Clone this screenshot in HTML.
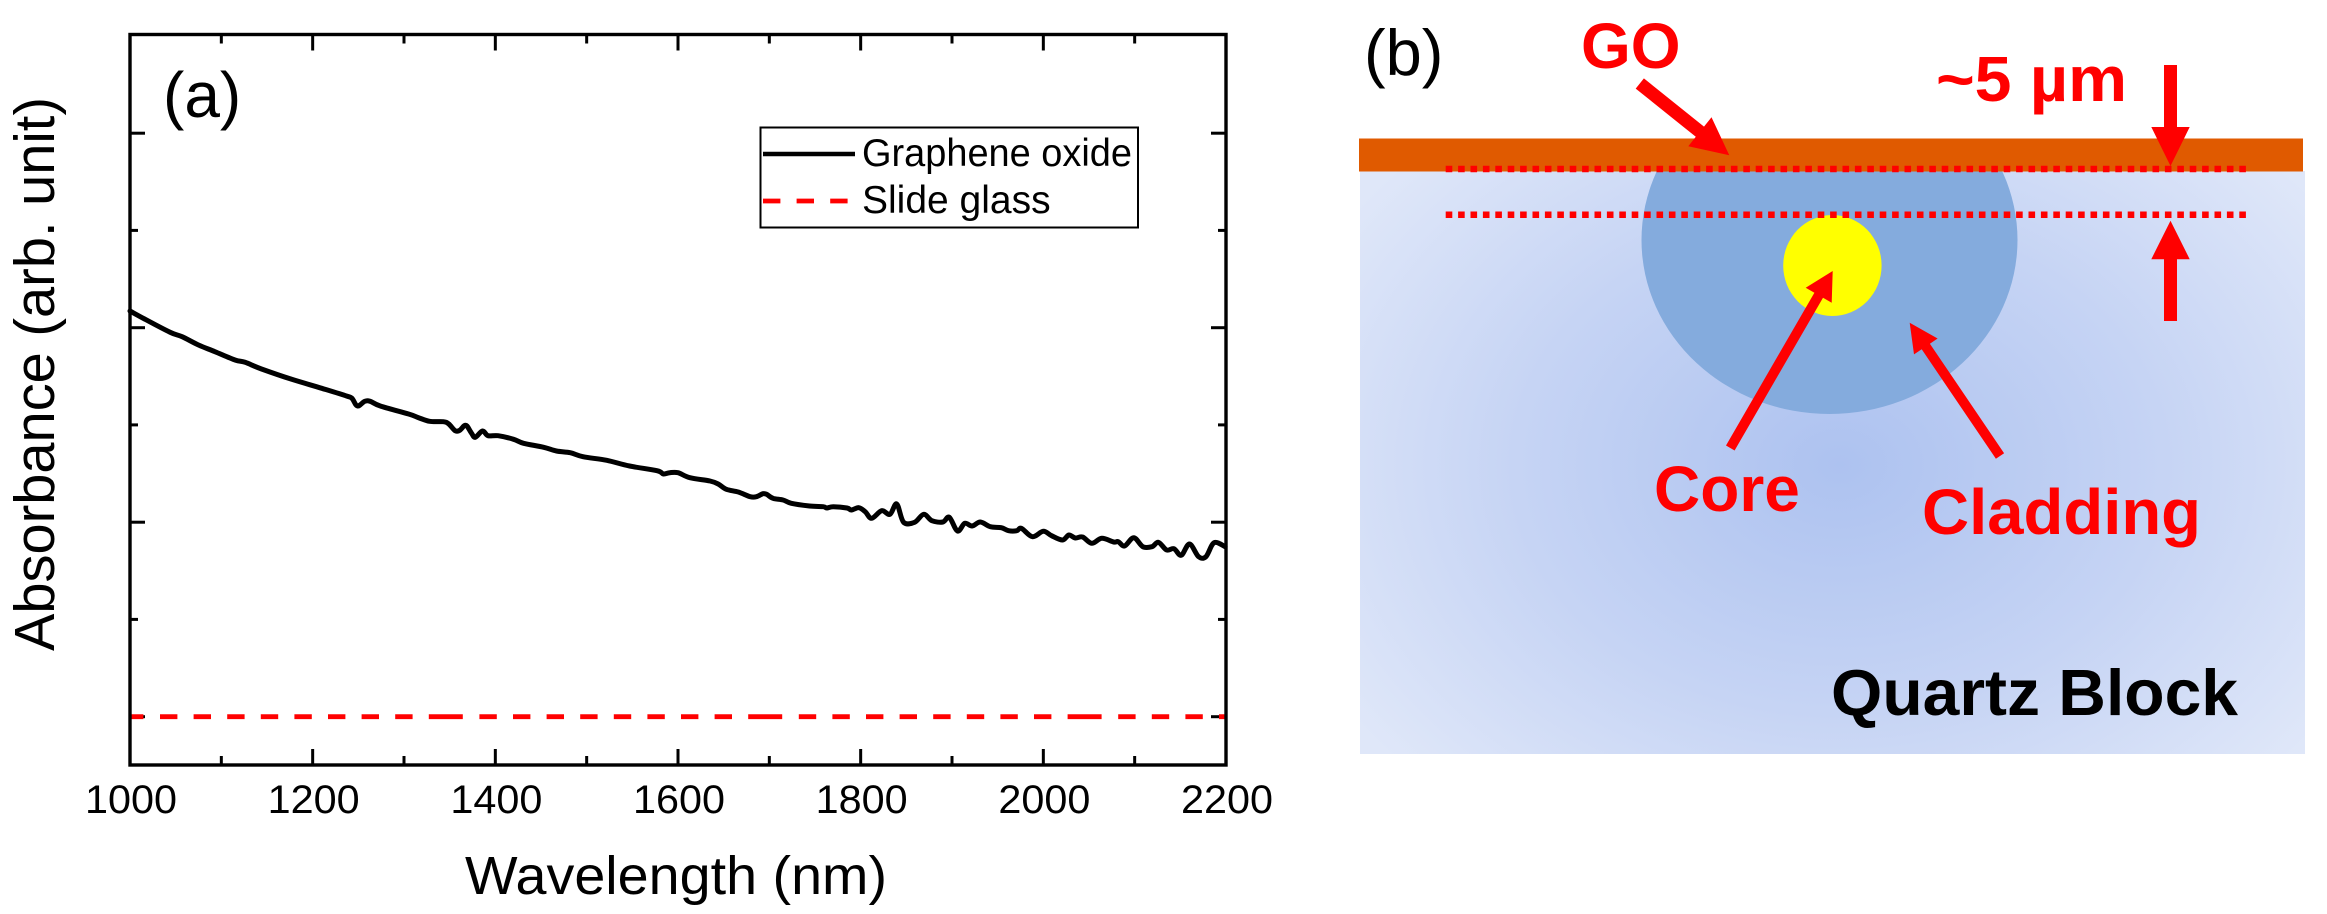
<!DOCTYPE html>
<html lang="en">
<head>
<meta charset="utf-8">
<title>Graphene oxide absorbance and quartz block schematic</title>
<style>
html,body{margin:0;padding:0;background:#fff;width:2327px;height:914px;overflow:hidden}
svg{display:block;font-family:"Liberation Sans",Arial,sans-serif}
</style>
</head>
<body>
<svg id="fig" xmlns="http://www.w3.org/2000/svg" width="2327" height="914" viewBox="0 0 2327 914">
  <defs>
    <radialGradient id="quartz-grad" gradientUnits="userSpaceOnUse" cx="0" cy="0" r="1" gradientTransform="translate(1840 465) scale(590 450)">
      <stop offset="0" stop-color="#adc2f0"/>
      <stop offset="0.55" stop-color="#c6d4f4"/>
      <stop offset="1" stop-color="#dfe7f9"/>
    </radialGradient>
    <clipPath id="clad-clip"><rect x="1360" y="171" width="945" height="583"/></clipPath>
  </defs>

  <g id="panel-a">
    <g id="ticks"></g>
    <polyline id="series-slide" fill="none" stroke="#ff0000" stroke-width="4.8" stroke-dasharray="34 16.6 17.4 16.2 17.4 16.2 17.4 16.2 17.4 16.2 17.4 16.2 17.4 16.2 17.4 16.2 17.4 16.2" stroke-dashoffset="20.6"/>
    <path id="series-go" fill="none" stroke="#000" stroke-width="5" stroke-linejoin="round" stroke-linecap="round"/>
    <rect x="130" y="34.5" width="1096" height="730.5" fill="none" stroke="#000" stroke-width="3.4"/>
    <g id="xlabels" font-size="40" text-anchor="middle" fill="#000"></g>
    <text x="465" y="894" font-size="54" textLength="422" lengthAdjust="spacingAndGlyphs" fill="#000">Wavelength (nm)</text>
    <text transform="translate(54 651) rotate(-90)" font-size="57" textLength="554" lengthAdjust="spacingAndGlyphs" fill="#000">Absorbance (arb. unit)</text>
    <text x="163" y="117" font-size="64" fill="#000">(a)</text>
    <g>
      <rect x="760.5" y="127.5" width="377.5" height="100" fill="#fff" stroke="#000" stroke-width="2"/>
      <line x1="763" y1="154" x2="855" y2="154" stroke="#000" stroke-width="4.5"/>
      <text x="862" y="166" font-size="39" textLength="270" lengthAdjust="spacingAndGlyphs" fill="#000">Graphene oxide</text>
      <line x1="763" y1="201" x2="848" y2="201" stroke="#ff0000" stroke-width="4.8" stroke-dasharray="17.4 16.2"/>
      <text x="862" y="213" font-size="39" fill="#000">Slide glass</text>
    </g>
  </g>

  <g id="panel-b">
    <text x="1364" y="75" font-size="65" fill="#000">(b)</text>
    <rect x="1360" y="171" width="945" height="583" fill="url(#quartz-grad)"/>
    <ellipse cx="1829.5" cy="240" rx="188" ry="174" fill="#84abdd" clip-path="url(#clad-clip)"/>
    <rect x="1359" y="138.5" width="944" height="33" fill="#e05a00"/>
    <ellipse cx="1832.4" cy="265.5" rx="49.2" ry="50.5" fill="#ffff00"/>
    <line x1="1445.7" y1="169" x2="2248" y2="169" stroke="#ff0000" stroke-width="6.5" stroke-dasharray="6.6 5.8"/>
    <line x1="1445.7" y1="214.7" x2="2248" y2="214.7" stroke="#ff0000" stroke-width="6.5" stroke-dasharray="6.6 5.8"/>
    <g id="arrows" fill="#ff0000"></g>
    <g font-weight="bold" fill="#ff0000">
      <text x="1581" y="68" font-size="64">GO</text>
      <text x="1936" y="101" font-size="64" textLength="191" lengthAdjust="spacingAndGlyphs">~5 µm</text>
      <text x="1654" y="511" font-size="64">Core</text>
      <text x="1922" y="534" font-size="64" textLength="279" lengthAdjust="spacingAndGlyphs">Cladding</text>
    </g>
    <text x="1831" y="715" font-size="65" font-weight="bold" fill="#000" textLength="407" lengthAdjust="spacingAndGlyphs">Quartz Block</text>
  </g>
</svg>
<script>
const wavelengths = [1000,1016,1044,1057,1075,1093,1115,1126,1144,1177,1210,1237,1243,1249,1257,1263,1274,1305,1316,1328,1343,1349,1356,1361,1366,1369,1374,1378,1386,1392,1403,1420,1431,1453,1467,1482,1496,1522,1547,1577,1584,1591,1600,1613,1635,1644,1653,1666,1679,1686,1693,1697,1704,1715,1724,1744,1759,1763,1770,1785,1790,1798,1805,1812,1823,1832,1839.5,1847,1859,1869,1878,1890,1897,1906,1914,1922,1931,1942,1954,1962,1971,1976,1988,2000,2009,2021,2028,2035,2043,2053,2064,2077,2082,2089,2099,2109,2119,2126,2135,2143,2151,2160,2170,2178,2187,2199];
const grapheneOxide = [405.7,397.7,384.4,380,371.7,365,356.7,354.4,347.7,337.4,328.4,320.7,318.4,310.7,315.4,315.4,310.7,302.7,299,295.4,295,292.7,286,286.4,291,290.7,283.4,279.4,285.7,281,281,277.4,273.4,269.4,265.7,264,260,256.4,250.7,246,242.7,244,244,239,235.7,232.7,227.4,224.7,220,220,223,222.4,218.4,216.7,213.4,210.7,210,208.7,210,208.7,206.7,209,205,198.4,206,202.4,212.7,194.4,194.4,202.4,196,194.7,199.4,185.7,193.4,190.7,194.7,190,189,186,186,188.4,180,185.4,181,176.7,181.7,178.7,179.7,173.4,178.4,174.7,175,170.7,179,170,170,174.4,166.7,168,161.4,172.7,160,160,174,170];
const slideWavelengths = [1000,2200];
const slideGlass = [0,0];
const xMajorTicks = [1000,1200,1400,1600,1800,2000,2200];
const xMinorTicks = [1100,1300,1500,1700,1900,2100];
const yMajorTicks = [0,194.5,389,583.5];
const yMinorTicks = [97.3,291.8,486.3];

const xDomain = [1000,2200], xRange = [130,1226];
const yDomain = [-48.3,682.2], yRange = [765,34.5];
function xScale(v){return xRange[0]+(v-xDomain[0])*(xRange[1]-xRange[0])/(xDomain[1]-xDomain[0]);}
function yScale(v){return yRange[0]+(v-yDomain[0])*(yRange[1]-yRange[0])/(yDomain[1]-yDomain[0]);}
const NS = 'http://www.w3.org/2000/svg';

function smoothPath(pts){
  let d = 'M'+pts[0][0].toFixed(1)+' '+pts[0][1].toFixed(1);
  for(let i=0;i<pts.length-1;i++){
    const p0=pts[Math.max(i-1,0)],p1=pts[i],p2=pts[i+1],p3=pts[Math.min(i+2,pts.length-1)];
    const c1x=p1[0]+(p2[0]-p0[0])/6,c1y=p1[1]+(p2[1]-p0[1])/6;
    const c2x=p2[0]-(p3[0]-p1[0])/6,c2y=p2[1]-(p3[1]-p1[1])/6;
    d+=' C'+c1x.toFixed(1)+' '+c1y.toFixed(1)+' '+c2x.toFixed(1)+' '+c2y.toFixed(1)+' '+p2[0].toFixed(1)+' '+p2[1].toFixed(1);
  }
  return d;
}
document.getElementById('series-go').setAttribute('d', smoothPath(wavelengths.map(function(w,i){return [xScale(w),yScale(grapheneOxide[i])];})));
document.getElementById('series-slide').setAttribute('points', slideWavelengths.map(function(w,i){return xScale(w).toFixed(1)+','+yScale(slideGlass[i]).toFixed(1);}).join(' '));

const tickGroup = document.getElementById('ticks');
function addLine(x1,y1,x2,y2){
  const l = document.createElementNS(NS,'line');
  l.setAttribute('x1',x1);l.setAttribute('y1',y1);l.setAttribute('x2',x2);l.setAttribute('y2',y2);
  l.setAttribute('stroke','#000');l.setAttribute('stroke-width','3');
  
  
  tickGroup.appendChild(l);
}
xMajorTicks.forEach(function(t){const x=xScale(t);addLine(x,765,x,749);addLine(x,34.5,x,50.5);});
xMinorTicks.forEach(function(t){const x=xScale(t);addLine(x,765,x,756);addLine(x,34.5,x,43.5);});
yMajorTicks.forEach(function(t){const y=yScale(t);addLine(130,y,145,y);addLine(1226,y,1211,y);});
yMinorTicks.forEach(function(t){const y=yScale(t);addLine(130,y,138,y);addLine(1226,y,1218,y);});

const xLabels = document.getElementById('xlabels');
xMajorTicks.forEach(function(t){
  const el = document.createElementNS(NS,'text');
  el.setAttribute('x',xScale(t)+1);
  el.setAttribute('y',813);
  el.setAttribute('textLength',92);
  el.setAttribute('lengthAdjust','spacingAndGlyphs');
  
  
  el.textContent = String(t);
  xLabels.appendChild(el);
});

function makeArrow(x0,y0,x1,y1,sw,hw,hl){
  const d = Math.hypot(x1-x0,y1-y0), ux=(x1-x0)/d, uy=(y1-y0)/d, px=-uy, py=ux;
  const bx=x1-ux*hl, by=y1-uy*hl;
  const pts=[[x0+px*sw/2,y0+py*sw/2],[bx+px*sw/2,by+py*sw/2],[bx+px*hw/2,by+py*hw/2],[x1,y1],[bx-px*hw/2,by-py*hw/2],[bx-px*sw/2,by-py*sw/2],[x0-px*sw/2,y0-py*sw/2]];
  const p = document.createElementNS(NS,'polygon');
  p.setAttribute('points',pts.map(function(q){return q[0].toFixed(1)+','+q[1].toFixed(1);}).join(' '));
  document.getElementById('arrows').appendChild(p);
  return p;
}
const goArrow = makeArrow(1639.8,83.5,1729.3,155.3,13,37.2,37.7);


const downArrow = makeArrow(2170.5,65,2170.5,166,13,38.3,39);


const upArrow = makeArrow(2170.5,321,2170.5,220.7,13,38.3,38.5);


const coreArrow = makeArrow(1730.3,448,1832.7,271,10,30,28);


const claddingArrow = makeArrow(2000,456,1909.7,322.7,10,28.4,28.7);


</script>
</body>
</html>
